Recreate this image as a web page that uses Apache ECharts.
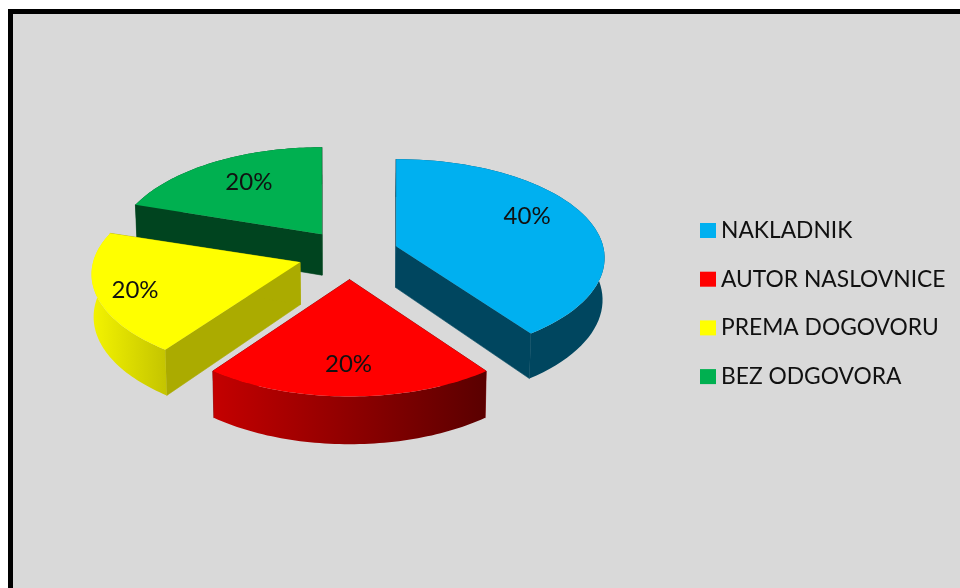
<!DOCTYPE html>
<html>
<head>
<meta charset="utf-8">
<style>html,body{margin:0;padding:0;background:#fff;overflow:hidden}#c{width:960px;height:588px}</style>
<script src="https://cdn.jsdelivr.net/npm/echarts@6/dist/echarts.min.js"></script>
</head>
<body>
<div id="c"></div>
<script>
// Data
var categories = ['NAKLADNIK', 'AUTOR NASLOVNICE', 'PREMA DOGOVORU', 'BEZ ODGOVORA'];
var values = [40, 20, 20, 20];

// Styles
var topColors = ['#00b0f0', '#ff0000', '#ffff00', '#00b050'];
var wallColors = ['#00465f', '#7f0000', '#abab00', '#00441f'];
var rimStops = [
  ['#00465f', '#00465f'],
  ['#c40000', '#5a0000'],
  ['#f4f400', '#c4c400'],
  ['#00441f', '#00441f']
];
var drawOrder = [2, 4, 3, 1]; // z rank: green behind, red in front
// Layout per slice
var labelShift = [[131, -30], [-1, 85], [-165, 28], [-73, -52]];
var explode = [49, 49, 52, 47];
var radius = [207, 205, 207, 205];
var perspective = [0.12, 0.147, 0.12, 0.147];

// Projection (layout)
var CX = 349.5, CY = 254, KB = 87;
var EXPLODE_V = 0.52, SHRINK = 0.992;
var FONT = 'Lato';

var total = values.reduce(function (a, b) { return a + b; }, 0);

function rimPoint(th, i) {
  var q = perspective[i];
  var s = 1 / (1 + q * Math.cos(th));
  return [radius[i] * Math.sin(th) * s, -KB * (1 + q) * Math.cos(th) * s];
}
function lower(p) {
  var depth = 41 + (p[1] - 235) * 0.042;
  return [CX + (p[0] - CX) * SHRINK, p[1] + depth];
}
function makeRender(index) {
  return function (params, api) {
    var value = api.value(0);
    var before = 0;
    for (var i = 0; i < index; i++) before += values[i];
    var a0 = before / total * Math.PI * 2;
    var a1 = a0 + value / total * Math.PI * 2;
    var mid = (a0 + a1) / 2;
    var d = explode[index];
    var apex = [CX + d * Math.sin(mid), CY - d * EXPLODE_V * Math.cos(mid)];
    var arc = [];
    var n = 60;
    for (var k = 0; k <= n; k++) {
      var r = rimPoint(a0 + (a1 - a0) * k / n, index);
      arc.push([apex[0] + r[0], apex[1] + r[1]]);
    }
    var arcLow = arc.map(lower).reverse();
    var first = arc[0], last = arc[n];
    var wall = function (p) {
      return {
        type: 'polygon',
        shape: { points: [apex, p, lower(p), lower(apex)] },
        style: { fill: wallColors[index], stroke: wallColors[index], lineWidth: 0.6 }
      };
    };
    var children = [
      wall(first),
      wall(last),
      {
        type: 'polygon',
        shape: { points: arc.concat(arcLow) },
        style: {
          fill: new echarts.graphic.LinearGradient(0, 0, 1, 0, [
            { offset: 0, color: rimStops[index][0] },
            { offset: 1, color: rimStops[index][1] }
          ])
        }
      },
      {
        type: 'polygon',
        shape: { points: [apex].concat(arc) },
        style: { fill: topColors[index] }
      },
      {
        type: 'text',
        x: apex[0] + labelShift[index][0],
        y: apex[1] + labelShift[index][1],
        style: {
          text: Math.round(value / total * 100) + '%',
          fill: '#111',
          fontFamily: FONT,
          fontSize: 24,
          align: 'center',
          verticalAlign: 'middle'
        }
      }
    ];
    return { type: 'group', children: children };
  };
}

var chart = echarts.init(document.getElementById('c'), null, { renderer: 'canvas' });
chart.setOption({
  animation: false,
  backgroundColor: '#ffffff',
  graphic: [{
    type: 'rect', z: 0, silent: true,
    shape: { x: 10.5, y: 11.5, width: 1000, height: 700 },
    style: { fill: '#d9d9d9', stroke: '#000', lineWidth: 5 }
  }],
  legend: {
    show: true,
    orient: 'vertical',
    left: 700, top: 219,
    padding: 0,
    icon: 'rect',
    itemWidth: 16, itemHeight: 15,
    itemGap: 25.7,
    selectedMode: false,
    data: categories,
    textStyle: { fontFamily: FONT, fontSize: 22.8, color: '#111', lineHeight: 15, height: 15 }
  },
  series: categories.map(function (name, i) {
    return {
      type: 'custom',
      name: name,
      coordinateSystem: 'none',
      z: 10 + drawOrder[i],
      silent: true,
      itemStyle: { color: topColors[i] },
      renderItem: makeRender(i),
      data: [[values[i]]]
    };
  })
});
</script>
</body>
</html>
